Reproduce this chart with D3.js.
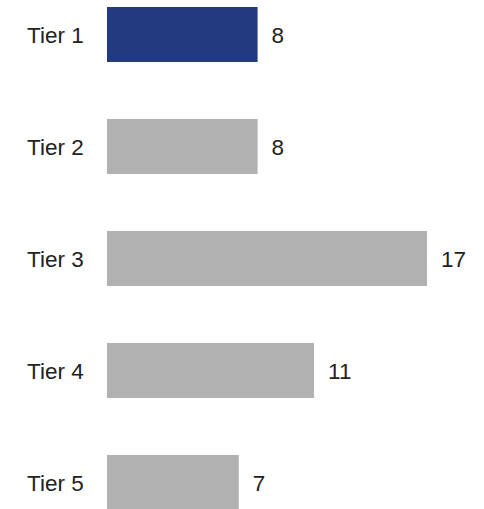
<!DOCTYPE html>
<html>
<head>
<meta charset="utf-8">
<script src="https://cdn.jsdelivr.net/npm/d3@7"></script>
<style>
  html, body { margin: 0; padding: 0; background: #fff; }
  svg { display: block; }
  text { font-family: "Liberation Sans", Arial, sans-serif; fill: #222; }
</style>
</head>
<body>
<svg id="chart" width="484" height="509"></svg>
<script>
const categories = ["Tier 1", "Tier 2", "Tier 3", "Tier 4", "Tier 5"];
const values = [8, 8, 17, 11, 7];
const highlight = ["Tier 1"];

const svg = d3.select("#chart");
const x = d3.scaleLinear().domain([0, 17]).range([107, 427]);
const y = d3.scaleBand().domain(categories).range([7, 510])
  .paddingInner(57 / 112).paddingOuter(0);

const data = categories.map((c, i) => ({ c, v: values[i] }));

svg.selectAll("rect.bar").data(data).join("rect")
  .attr("class", "bar")
  .attr("x", x(0))
  .attr("y", d => y(d.c))
  .attr("width", d => x(d.v) - x(0))
  .attr("height", y.bandwidth())
  .attr("fill", d => highlight.includes(d.c) ? "#213a80" : "#b1b1b1");

svg.selectAll("text.cat").data(data).join("text")
  .attr("class", "cat")
  .attr("x", 27)
  .attr("y", d => y(d.c) + y.bandwidth() / 2)
  .attr("dy", "0.36em")
  .attr("font-size", 22.5)
  .text(d => d.c);

svg.selectAll("text.val").data(data).join("text")
  .attr("class", "val")
  .attr("x", d => x(d.v) + 14)
  .attr("y", d => y(d.c) + y.bandwidth() / 2)
  .attr("dy", "0.36em")
  .attr("font-size", 22.5)
  .text(d => d.v);
</script>
</body>
</html>
